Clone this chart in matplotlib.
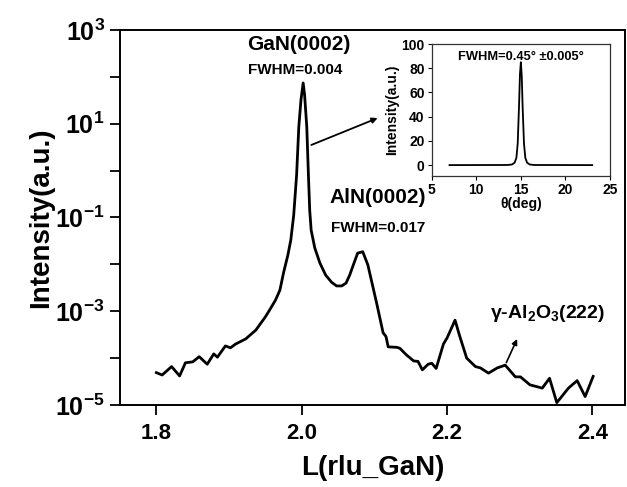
import matplotlib

matplotlib.use("Agg")

import matplotlib.pyplot as plt
from matplotlib.ticker import FixedLocator, FixedFormatter, NullLocator

plt.rcParams["font.family"] = ["Liberation Sans", "DejaVu Sans"]
plt.rcParams["font.weight"] = "bold"
plt.rcParams["mathtext.fontset"] = "custom"
plt.rcParams["mathtext.rm"] = "Liberation Sans:bold"
plt.rcParams["mathtext.bf"] = "Liberation Sans:bold"
plt.rcParams["mathtext.it"] = "Liberation Sans:bold"
plt.rcParams["mathtext.default"] = "bf"

# main L-scan, log10 of intensity
l_rlu = [
    1.800, 1.808, 1.821, 1.832, 1.840, 1.850, 1.859, 1.870, 1.879, 1.884,
    1.895, 1.902, 1.909, 1.923, 1.937, 1.950, 1.956, 1.964, 1.970, 1.975,
    1.981, 1.985, 1.989, 1.993, 1.996, 1.999, 2.002, 2.004, 2.007, 2.009,
    2.011, 2.013, 2.018, 2.025, 2.033, 2.041, 2.048, 2.055, 2.061, 2.066,
    2.072, 2.077, 2.084, 2.091, 2.103, 2.112, 2.116, 2.119, 2.131, 2.135,
    2.144, 2.154, 2.160, 2.166, 2.174, 2.179, 2.185, 2.195, 2.200, 2.211,
    2.217, 2.227, 2.239, 2.246, 2.257, 2.269, 2.280, 2.294, 2.301, 2.314,
    2.331, 2.341, 2.351, 2.367, 2.379, 2.390, 2.401,
]
log_intensity = [
    -4.31, -4.36, -4.18, -4.38, -4.10, -4.08, -3.97, -4.13, -3.91, -3.98,
    -3.74, -3.78, -3.70, -3.59, -3.40, -3.12, -2.97, -2.76, -2.55, -2.18,
    -1.80, -1.48, -0.95, -0.09, 0.93, 1.51, 1.87, 1.61, 0.93, 0.01,
    -0.84, -1.27, -1.65, -1.97, -2.23, -2.38, -2.46, -2.46, -2.40, -2.23,
    -1.97, -1.76, -1.73, -2.01, -2.82, -3.46, -3.54, -3.76, -3.77, -3.79,
    -3.93, -4.06, -4.07, -4.25, -4.13, -4.11, -4.22, -3.70, -3.57, -3.19,
    -3.51, -4.00, -4.18, -4.21, -4.32, -4.21, -4.15, -4.40, -4.40, -4.57,
    -4.64, -4.43, -4.95, -4.64, -4.48, -4.82, -4.39,
]
intensity = [10 ** v for v in log_intensity]

y_ticks = [1e-5, 1e-4, 1e-3, 1e-2, 1e-1, 1e0, 1e1, 1e2, 1e3]
y_tick_labels = [r"$10^{-5}$", "", r"$10^{-3}$", "", r"$10^{-1}$", "", r"$10^{1}$", "", r"$10^{3}$"]
x_ticks = [1.8, 2.0, 2.2, 2.4]
x_tick_labels = ["1.8", "2.0", "2.2", "2.4"]

# inset rocking curve
theta_deg = [7.0, 13.5, 14.0, 14.3, 14.5, 14.65, 14.8, 14.9, 15.0, 15.1, 15.2, 15.35, 15.5, 15.7, 16.0, 16.5, 23.0]
inset_intensity = [0.0, 0.1, 0.5, 2.0, 6.0, 18.0, 50.0, 75.0, 85.0, 74.0, 48.0, 18.0, 6.0, 2.0, 0.5, 0.1, 0.0]
inset_x_ticks = [5, 10, 15, 20, 25]
inset_y_ticks = [0, 20, 40, 60, 80, 100]

fig = plt.figure(figsize=(6.27, 4.87), dpi=100)
ax = fig.add_axes([0.1914, 0.1684, 0.8056, 0.77])

ax.plot(l_rlu, intensity, color="black", lw=2.0)
ax.set_yscale("log")
ax.set_xlim(1.75, 2.445)
ax.set_ylim(1e-5, 1e3)

ax.yaxis.set_major_locator(FixedLocator(y_ticks))
ax.yaxis.set_major_formatter(FixedFormatter(y_tick_labels))
ax.yaxis.set_minor_locator(NullLocator())
ax.xaxis.set_major_locator(FixedLocator(x_ticks))
ax.xaxis.set_major_formatter(FixedFormatter(x_tick_labels))
ax.tick_params(axis="y", direction="out", length=7, width=1.3, labelsize=18, pad=4)
ax.tick_params(axis="x", direction="out", length=7, width=1.3, labelsize=16, pad=6)
for spine in ax.spines.values():
    spine.set_linewidth(1.4)

ax.set_xlabel("L(rlu_GaN)", fontsize=20, fontweight="bold", labelpad=8)
ax.set_ylabel("Intensity(a.u.)", fontsize=20, fontweight="bold", labelpad=1)

ax.text(0.354, 0.96, "GaN(0002)", transform=ax.transAxes, ha="center", va="center", fontsize=15)
ax.text(0.347, 0.893, "FWHM=0.004", transform=ax.transAxes, ha="center", va="center", fontsize=11)
ax.text(0.511, 0.552, "AlN(0002)", transform=ax.transAxes, ha="center", va="center", fontsize=15)
ax.text(0.511, 0.472, "FWHM=0.017", transform=ax.transAxes, ha="center", va="center", fontsize=11)
ax.text(0.733, 0.245, "γ-Al$_2$O$_3$(222)", transform=ax.transAxes, ha="left", va="center", fontsize=14)

ax.annotate("", xy=(2.108, 13.9), xytext=(2.0097, 3.35),
            arrowprops=dict(arrowstyle="-|>", color="black", lw=1.3, mutation_scale=8))
ax.annotate("", xy=(2.298, 2.9e-4), xytext=(2.280, 7.1e-5),
            arrowprops=dict(arrowstyle="-|>", color="black", lw=1.2, mutation_scale=8))

inset = fig.add_axes([0.6885, 0.6386, 0.2844, 0.271])
inset.plot(theta_deg, inset_intensity, color="black", lw=1.3)
inset.set_xlim(5, 25)
inset.set_ylim(-9, 100)
inset.set_xticks(inset_x_ticks)
inset.set_yticks(inset_y_ticks)
inset.tick_params(direction="out", length=3, width=0.8, labelsize=10, pad=2)
for spine in inset.spines.values():
    spine.set_linewidth(0.9)
    spine.set_color("#333333")
inset.set_xlabel("θ(deg)", fontsize=10, fontweight="bold", labelpad=0)
inset.set_ylabel("Intensity(a.u.)", fontsize=10, fontweight="bold", labelpad=2)
inset.text(0.5, 0.9, "FWHM=0.45° ±0.005°", transform=inset.transAxes,
           ha="center", va="center", fontsize=9.3)

fig.savefig("out.png", dpi=100)
